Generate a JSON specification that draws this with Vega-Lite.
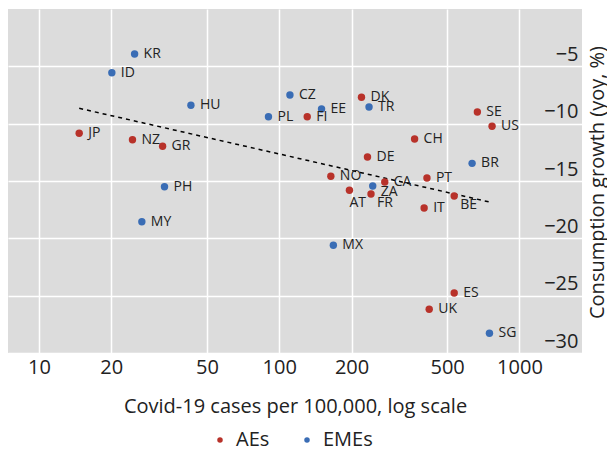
{
  "$schema": "https://vega.github.io/schema/vega-lite/v6.json",
  "width": 574,
  "height": 344,
  "padding": {"left": 8, "top": 9, "right": 0, "bottom": 28},
  "autosize": {"type": "pad"},
  "background": "white",
  "config": {
    "font": "Open Sans",
    "view": {"fill": "#dcdcdc", "stroke": null},
    "axis": {
      "gridColor": "white",
      "gridWidth": 1.5,
      "domain": false,
      "ticks": false,
      "labelColor": "#222222",
      "titleColor": "#222222",
      "labelFontSize": 20,
      "titleFontSize": 20,
      "titleFontWeight": "normal",
      "labelOverlap": false
    },
    "legend": {
      "labelFontSize": 20,
      "labelColor": "#222222",
      "symbolSize": 30,
      "symbolType": "circle",
      "columnPadding": 27,
      "labelOffset": 6
    }
  },
  "datasets": {
    "pts": [
      {"c": "KR", "g": "EMEs", "x": 25.0, "y": -3.92},
      {"c": "ID", "g": "EMEs", "x": 20.1, "y": -5.56},
      {"c": "HU", "g": "EMEs", "x": 42.9, "y": -8.40},
      {"c": "PL", "g": "EMEs", "x": 90.2, "y": -9.39},
      {"c": "CZ", "g": "EMEs", "x": 110.8, "y": -7.50},
      {"c": "JP", "g": "AEs", "x": 14.7, "y": -10.84},
      {"c": "NZ", "g": "AEs", "x": 24.5, "y": -11.40},
      {"c": "GR", "g": "AEs", "x": 32.7, "y": -11.97},
      {"c": "PH", "g": "EMEs", "x": 33.3, "y": -15.50},
      {"c": "MY", "g": "EMEs", "x": 26.8, "y": -18.55},
      {"c": "EE", "g": "EMEs", "x": 150, "y": -8.72},
      {"c": "FI", "g": "AEs", "x": 130.8, "y": -9.39},
      {"c": "DK", "g": "AEs", "x": 220, "y": -7.70},
      {"c": "TR", "g": "EMEs", "x": 236.5, "y": -8.55},
      {"c": "SE", "g": "AEs", "x": 668, "y": -8.98},
      {"c": "US", "g": "AEs", "x": 769, "y": -10.23},
      {"c": "CH", "g": "AEs", "x": 366, "y": -11.34},
      {"c": "DE", "g": "AEs", "x": 233, "y": -12.91},
      {"c": "BR", "g": "EMEs", "x": 635, "y": -13.46},
      {"c": "NO", "g": "AEs", "x": 164, "y": -14.59},
      {"c": "PT", "g": "AEs", "x": 412, "y": -14.74},
      {"c": "CA", "g": "AEs", "x": 275, "y": -15.09},
      {"c": "ZA", "g": "EMEs", "x": 245, "y": -15.44},
      {"c": "AT", "g": "AEs", "x": 196, "y": -15.81},
      {"c": "FR", "g": "AEs", "x": 241, "y": -16.13},
      {"c": "BE", "g": "AEs", "x": 535, "y": -16.31},
      {"c": "IT", "g": "AEs", "x": 401, "y": -17.35},
      {"c": "MX", "g": "EMEs", "x": 168, "y": -20.61},
      {"c": "ES", "g": "AEs", "x": 535, "y": -24.77},
      {"c": "UK", "g": "AEs", "x": 421, "y": -26.19},
      {"c": "SG", "g": "EMEs", "x": 750, "y": -28.28}
    ],
    "trend": [
      {"x": 14.7, "y": -8.66},
      {"x": 750, "y": -16.83}
    ]
  },
  "layer": [
    {
      "data": {"name": "trend"},
      "mark": {"type": "line", "color": "black", "strokeDash": [4, 4], "strokeWidth": 1.5},
      "encoding": {
        "x": {
          "field": "x", "type": "quantitative",
          "scale": {"type": "log", "domain": [7.43, 1821], "nice": false},
          "axis": {
            "values": [10, 20, 50, 100, 200, 500, 1000],
            "format": "d",
            "labelPadding": 4,
            "title": "Covid-19 cases per 100,000, log scale",
            "titlePadding": 19
          }
        },
        "y": {
          "field": "y", "type": "quantitative",
          "scale": {"domain": [-30, 0], "nice": false},
          "axis": {
            "orient": "right",
            "values": [-5, -10, -15, -20, -25, -30],
            "labelAlign": "right",
            "labelBaseline": "alphabetic",
            "labelOffset": -6,
            "labelPadding": -4,
            "title": "Consumption growth (yoy, %)",
            "titleAngle": 270,
            "titleAlign": "center",
            "titleBaseline": "middle",
            "titleX": 15,
            "titleY": 173
          }
        }
      }
    },
    {
      "data": {"name": "pts"},
      "mark": {"type": "circle", "size": 55, "opacity": 1},
      "encoding": {
        "x": {"field": "x", "type": "quantitative"},
        "y": {"field": "y", "type": "quantitative"},
        "color": {
          "field": "g", "type": "nominal",
          "scale": {"domain": ["AEs", "EMEs"], "range": ["#b8322a", "#3a6db5"]},
          "legend": {"title": null, "orient": "none", "direction": "horizontal", "legendX": 202, "legendY": 421}
        }
      }
    },
    {
      "data": {"name": "pts"},
      "transform": [{"filter": {"not": {"field": "c", "oneOf": ["AT", "FR", "BE", "ZA"]}}}],
      "mark": {"type": "text", "align": "left", "baseline": "middle", "dx": 9, "fontSize": 14, "color": "#222222"},
      "encoding": {
        "x": {"field": "x", "type": "quantitative"},
        "y": {"field": "y", "type": "quantitative"},
        "text": {"field": "c"}
      }
    },
    {
      "data": {"name": "pts"},
      "transform": [{"filter": {"field": "c", "equal": "ZA"}}],
      "mark": {"type": "text", "align": "left", "baseline": "middle", "dx": 8, "dy": 6, "fontSize": 14, "color": "#222222"},
      "encoding": {
        "x": {"field": "x", "type": "quantitative"},
        "y": {"field": "y", "type": "quantitative"},
        "text": {"field": "c"}
      }
    },
    {
      "data": {"name": "pts"},
      "transform": [{"filter": {"field": "c", "equal": "AT"}}],
      "mark": {"type": "text", "align": "left", "baseline": "middle", "dx": 0, "dy": 13, "fontSize": 14, "color": "#222222"},
      "encoding": {
        "x": {"field": "x", "type": "quantitative"},
        "y": {"field": "y", "type": "quantitative"},
        "text": {"field": "c"}
      }
    },
    {
      "data": {"name": "pts"},
      "transform": [{"filter": {"field": "c", "oneOf": ["FR", "BE"]}}],
      "mark": {"type": "text", "align": "left", "baseline": "middle", "dx": 6, "dy": 9, "fontSize": 14, "color": "#222222"},
      "encoding": {
        "x": {"field": "x", "type": "quantitative"},
        "y": {"field": "y", "type": "quantitative"},
        "text": {"field": "c"}
      }
    }
  ]
}
